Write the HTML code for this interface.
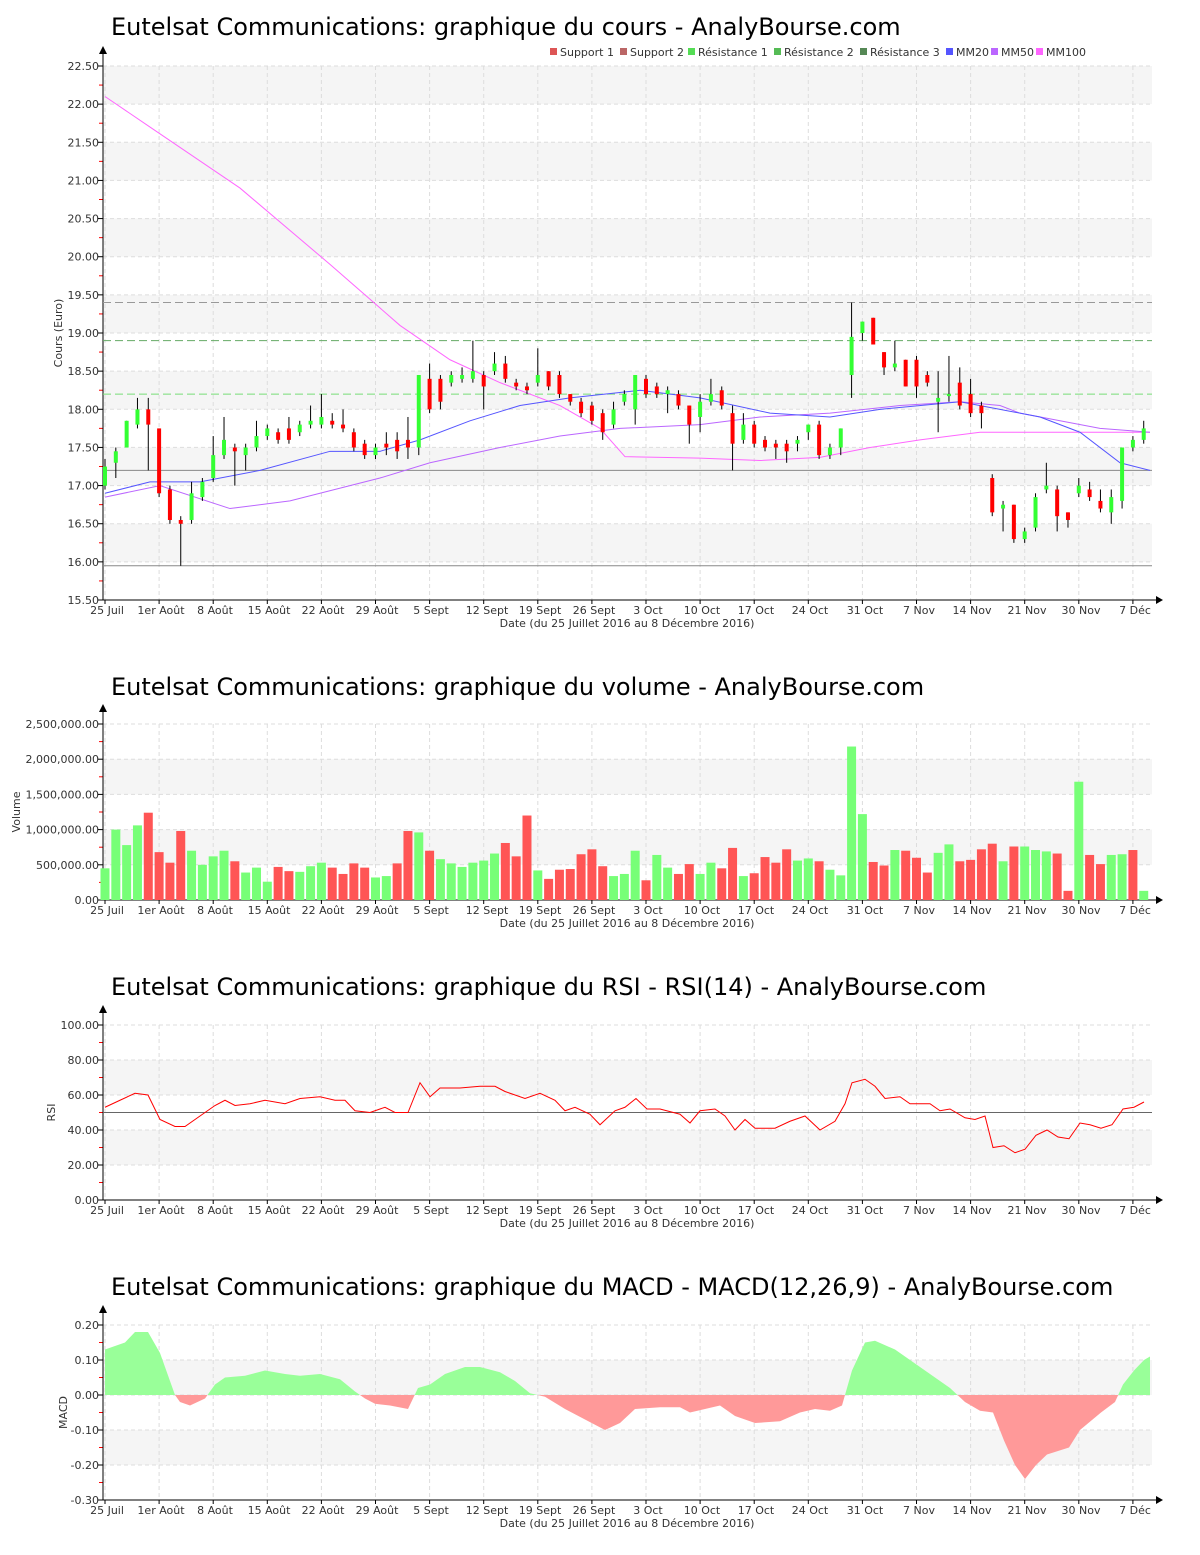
<!DOCTYPE html>
<html><head><meta charset="utf-8"><style>
body{margin:0;background:#fff;}
svg text{font-family:"DejaVu Sans","Liberation Sans",sans-serif;}
</style></head><body>
<svg id="s" width="1200" height="1550" xmlns="http://www.w3.org/2000/svg"></svg>
<script>
const S=document.getElementById('s');let h='';
const labels=["25 Juil","1er Août","8 Août","15 Août","22 Août","29 Août","5 Sept","12 Sept","19 Sept","26 Sept","3 Oct","10 Oct","17 Oct","24 Oct","31 Oct","7 Nov","14 Nov","21 Nov","30 Nov","7 Déc"];
const lx=[107,161,215,269,323,377,431,487,540,594,648,702,756,810,865,919,972,1027,1081,1135];
const X0=103,X1=1152;
function frame(title,ty,top,bot,ticks,fmt,ylab,bandsFromBottomGray){
 h+=`<text x="111" y="${ty}" font-size="24" fill="#000">${title}</text>`;
 const n=ticks.length-1;const bh=(bot-top)/n;
 for(let k=0;k<n;k++){const yb=bot-k*bh; if(k%2==1)h+=`<rect x="${X0}" y="${yb-bh}" width="${X1-X0}" height="${bh}" fill="#f5f5f5"/>`;}
 for(let k=0;k<=n;k++){const y=bot-k*bh;h+=`<line x1="${X0}" x2="${X1}" y1="${y}" y2="${y}" stroke="#ddd" stroke-dasharray="4,3"/>`;
  h+=`<text x="99" y="${y+4}" font-size="11" text-anchor="end" fill="#333">${fmt(ticks[k])}</text><line x1="98" x2="103" y1="${y}" y2="${y}" stroke="#000"/>`;
  if(k<n)h+=`<line x1="99" x2="103" y1="${y-bh/2}" y2="${y-bh/2}" stroke="red"/>`;}
 for(let i=0;i<lx.length;i++){const x=105+i*54.1;h+=`<line x1="${x}" x2="${x}" y1="${top}" y2="${bot}" stroke="#ddd" stroke-dasharray="4,3"/>`;
  h+=`<text x="${lx[i]}" y="${bot+14}" font-size="11" text-anchor="middle" fill="#333">${labels[i]}</text><line x1="${x}" x2="${x}" y1="${bot}" y2="${bot+4}" stroke="#000"/>`;}
 h+=`<line x1="${X0}" x2="${X0}" y1="${top-16}" y2="${bot}" stroke="#000"/><polygon points="${X0-4},${top-12} ${X0+4},${top-12} ${X0},${top-20}" fill="#000"/>`;
 h+=`<line x1="${X0}" x2="1158" y1="${bot}" y2="${bot}" stroke="#000"/><polygon points="1156,${bot-4} 1156,${bot+4} 1163,${bot}" fill="#000"/>`;
 h+=`<text x="627" y="${bot+27}" font-size="11" text-anchor="middle" fill="#333">Date (du 25 Juillet 2016 au 8 Décembre 2016)</text>`;
 const my=(top+bot)/2;h+=`<text x="0" y="0" font-size="11" text-anchor="middle" fill="#333" transform="translate(${ylab[1]},${my}) rotate(-90)">${ylab[0]}</text>`;
}
// chart1
const Y1=v=>66+(22.5-v)*76.3;
let t1=[];for(let v=15.5;v<=22.51;v+=0.5)t1.push(v);
frame("Eutelsat Communications: graphique du cours - AnalyBourse.com",35,66,600,t1,v=>v.toFixed(2),["Cours (Euro)",62]);
// legend
const leg=[["#d55","Support 1",550],["#b66","Support 2",620],["#5d5","Résistance 1",688],["#5b5","Résistance 2",774],["#585","Résistance 3",860],["#55f","MM20",946],["#b6f","MM50",991],["#f6f","MM100",1036]];
leg.forEach(l=>{h+=`<rect x="${l[2]}" y="48" width="7" height="7" fill="${l[0]}"/><text x="${l[2]+10}" y="56" font-size="11" fill="#333">${l[1]}</text>`;});
[[19.4,"#999",1],[18.9,"#6a6",1],[18.2,"#7d7",1]].forEach(r=>{h+=`<line x1="${X0}" x2="${X1}" y1="${Y1(r[0])}" y2="${Y1(r[0])}" stroke="${r[1]}" stroke-dasharray="8,4"/>`;});
[17.2,15.95].forEach(v=>h+=`<line x1="${X0}" x2="${X1}" y1="${Y1(v)}" y2="${Y1(v)}" stroke="#888"/>`);
function pl(pts,col,Y){h+=`<polyline fill="none" stroke="${col}" stroke-width="1" points="${pts.map(p=>p[0]+','+Y(p[1])).join(' ')}"/>`;}
pl([[105,22.1],[150,21.7],[240,20.9],[330,19.9],[400,19.1],[450,18.65],[500,18.35],[560,18.05],[600,17.75],[625,17.38],[700,17.36],[760,17.33],[820,17.37],[870,17.5],[920,17.6],[980,17.7],[1010,17.7],[1150,17.7]],"#f6f",Y1);
pl([[105,16.85],[160,17.0],[230,16.7],[290,16.8],[380,17.1],[430,17.3],[500,17.5],[560,17.65],[620,17.75],[700,17.8],[760,17.9],[830,17.95],[900,18.05],[960,18.1],[1000,18.05],[1020,17.95],[1100,17.75],[1150,17.7]],"#b6f",Y1);
pl([[105,16.9],[150,17.05],[200,17.05],[260,17.2],[330,17.45],[380,17.45],[420,17.6],[470,17.85],[520,18.05],[570,18.15],[640,18.25],[700,18.15],[770,17.95],[830,17.9],[880,18.0],[960,18.1],[1000,18.0],[1040,17.9],[1080,17.7],[1120,17.3],[1150,17.2]],"#55f",Y1);
const C=[[17,17.25,17.35,16.95],[17.3,17.45,17.5,17.1],[17.5,17.85,17.85,17.5],[17.8,18,18.15,17.75],[18,17.8,18.15,17.2],[17.75,16.9,17.75,16.85],[16.95,16.55,17,16.5],[16.55,16.5,16.6,15.95],[16.55,16.9,17.05,16.5],[16.85,17.05,17.1,16.8],[17.1,17.4,17.65,17.05],[17.4,17.6,17.9,17.35],[17.5,17.45,17.55,17.0],[17.4,17.5,17.55,17.2],[17.5,17.65,17.85,17.45],[17.65,17.75,17.8,17.6],[17.7,17.6,17.75,17.55],[17.75,17.6,17.9,17.55],[17.7,17.8,17.85,17.65],[17.8,17.85,18.05,17.75],[17.8,17.9,18.2,17.75],[17.85,17.8,17.95,17.75],[17.8,17.75,18,17.7],[17.7,17.5,17.75,17.45],[17.55,17.4,17.6,17.35],[17.4,17.5,17.55,17.35],[17.55,17.5,17.7,17.4],[17.6,17.45,17.7,17.35],[17.6,17.5,17.9,17.35],[17.5,18.45,18.45,17.4],[18.4,18,18.6,17.95],[18.4,18.1,18.45,18.0],[18.35,18.45,18.5,18.3],[18.4,18.45,18.55,18.35],[18.4,18.5,18.9,18.35],[18.45,18.3,18.5,18.0],[18.5,18.6,18.75,18.45],[18.6,18.4,18.7,18.35],[18.35,18.3,18.4,18.25],[18.3,18.25,18.35,18.2],[18.35,18.45,18.8,18.3],[18.5,18.3,18.5,18.25],[18.45,18.2,18.5,18.15],[18.2,18.1,18.2,18.05],[18.1,17.95,18.15,17.9],[18.05,17.85,18.1,17.8],[17.95,17.7,18.0,17.6],[17.8,18,18.1,17.75],[18.1,18.2,18.25,18.05],[18.0,18.45,18.45,17.8],[18.4,18.2,18.45,18.15],[18.3,18.2,18.35,18.15],[18.2,18.25,18.3,17.95],[18.2,18.05,18.25,18.0],[18.05,17.8,18.05,17.55],[17.9,18.1,18.2,17.7],[18.1,18.2,18.4,18.05],[18.25,18.05,18.3,18.0],[17.95,17.55,18.05,17.2],[17.6,17.8,17.95,17.55],[17.8,17.55,17.85,17.5],[17.6,17.5,17.65,17.45],[17.55,17.5,17.6,17.35],[17.55,17.45,17.6,17.3],[17.55,17.6,17.65,17.45],[17.7,17.8,17.8,17.6],[17.8,17.4,17.85,17.35],[17.4,17.5,17.55,17.35],[17.5,17.75,17.75,17.4],[18.45,18.95,19.4,18.15],[19.0,19.15,19.15,18.9],[19.2,18.85,19.2,18.85],[18.75,18.55,18.75,18.45],[18.55,18.6,18.9,18.5],[18.65,18.3,18.65,18.3],[18.65,18.3,18.7,18.15],[18.45,18.35,18.5,18.3],[18.1,18.15,18.5,17.7],[18.2,18.2,18.7,18.1],[18.35,18.05,18.55,18.0],[18.2,17.95,18.4,17.9],[18.05,17.95,18.1,17.75],[17.1,16.65,17.15,16.6],[16.7,16.75,16.8,16.4],[16.75,16.3,16.75,16.25],[16.3,16.4,16.45,16.25],[16.45,16.85,16.9,16.4],[16.95,17.0,17.3,16.9],[16.95,16.6,17.0,16.4],[16.65,16.55,16.65,16.45],[16.9,17.0,17.1,16.85],[16.95,16.85,17.05,16.8],[16.8,16.7,16.95,16.65],[16.65,16.85,16.95,16.5],[16.8,17.5,17.5,16.7],[17.5,17.6,17.65,17.45],[17.6,17.75,17.85,17.55]];
const cx=i=>105+i*10.82;
C.forEach((c,i)=>{const x=cx(i);const g=c[1]>=c[0];h+=`<line x1="${x}" x2="${x}" y1="${Y1(c[2])}" y2="${Y1(c[3])}" stroke="#000"/>`;
 const y=Y1(Math.max(c[0],c[1]));const hh=Math.max(2,Math.abs(Y1(c[0])-Y1(c[1])));h+=`<rect x="${x-2}" y="${y}" width="4" height="${hh}" fill="${g?'#3f3':'#f00'}"/>`;});
// chart2 volume
const Y2=v=>900-v*0.0704;
frame("Eutelsat Communications: graphique du volume - AnalyBourse.com",695,724,900,[0,500,1000,1500,2000,2500],v=>(v==0?"0.00":(v*1000).toLocaleString('en-US')+".00"),["Volume",20]);
const V="450g 1000g 780g 1060g 1240r 680r 530r 980r 700g 500g 620g 700g 550r 390g 460g 260g 470r 410r 400g 480g 530g 460r 370r 520r 460r 320g 340g 520r 980r 960g 700r 580g 520g 470g 530g 560g 660g 810r 620r 1200r 420g 300r 430r 440r 650r 720r 480r 340g 370g 700g 280r 640g 460g 370r 510r 370g 530g 450r 740r 340g 380r 610r 530r 720r 560g 590g 550r 430g 350g 2180g 1220g 540r 490r 710g 700r 600r 390r 670g 790g 550r 570r 720r 800r 550g 760r 760g 710g 690g 660r 130r 1680g 640r 510r 640g 650g 710r 130g".split(' ');
V.forEach((s,i)=>{const v=parseFloat(s);const x=cx(i);h+=`<rect x="${x-4.5}" y="${Y2(v)}" width="9" height="${900-Y2(v)}" fill="${s.endsWith('g')?'#7f7':'#f55'}"/>`;});
// chart3 RSI
const Y3=v=>1200-v*1.75;
frame("Eutelsat Communications: graphique du RSI - RSI(14) - AnalyBourse.com",995,1025,1200,[0,20,40,60,80,100],v=>v.toFixed(2),["RSI",55]);
h+=`<line x1="${X0}" x2="${X1}" y1="${Y3(50)}" y2="${Y3(50)}" stroke="#666"/>`;
pl([[105,53],[120,57],[135,61],[148,60],[160,46],[175,42],[185,42],[200,48],[215,54],[225,57],[235,54],[250,55],[265,57],[285,55],[300,58],[320,59],[335,57],[345,57],[355,51],[370,50],[385,53],[395,50],[408,50],[420,67],[430,59],[440,64],[460,64],[480,65],[495,65],[505,62],[525,58],[540,61],[555,57],[565,51],[575,53],[590,49],[600,43],[615,51],[625,53],[636,58],[647,52],[660,52],[680,49],[690,44],[700,51],[715,52],[725,48],[735,40],[745,46],[755,41],[775,41],[790,45],[805,48],[820,40],[835,45],[845,55],[852,67],[865,69],[875,65],[885,58],[900,59],[910,55],[930,55],[940,51],[950,52],[965,47],[975,46],[985,48],[993,30],[1004,31],[1015,27],[1025,29],[1036,37],[1047,40],[1058,36],[1069,35],[1080,44],[1090,43],[1101,41],[1112,43],[1123,52],[1134,53],[1144,56]],"#f00",Y3);
// chart4 MACD
const Y4=v=>1395-v*350;
frame("Eutelsat Communications: graphique du MACD - MACD(12,26,9) - AnalyBourse.com",1295,1325,1500,[-0.3,-0.2,-0.1,0,0.1,0.2],v=>v.toFixed(2),["MACD",67]);
const M=[[105,0.13],[125,0.15],[135,0.18],[148,0.18],[160,0.12],[175,0.0],[180,-0.02],[190,-0.03],[205,-0.01],[215,0.03],[225,0.05],[245,0.055],[265,0.07],[285,0.06],[300,0.055],[320,0.06],[340,0.045],[355,0.01],[365,-0.01],[375,-0.025],[390,-0.03],[408,-0.04],[418,0.02],[430,0.03],[445,0.06],[465,0.08],[480,0.08],[500,0.065],[515,0.04],[530,0.005],[545,-0.005],[565,-0.04],[585,-0.07],[605,-0.1],[620,-0.08],[635,-0.04],[660,-0.035],[680,-0.035],[690,-0.05],[705,-0.04],[720,-0.03],[735,-0.06],[755,-0.08],[780,-0.075],[800,-0.05],[815,-0.04],[830,-0.045],[842,-0.03],[852,0.07],[865,0.15],[875,0.155],[895,0.13],[910,0.1],[930,0.06],[950,0.02],[965,-0.02],[980,-0.045],[993,-0.05],[1004,-0.13],[1015,-0.2],[1025,-0.24],[1036,-0.2],[1047,-0.17],[1069,-0.15],[1080,-0.1],[1101,-0.05],[1115,-0.02],[1123,0.03],[1134,0.07],[1144,0.1],[1150,0.11]];
const poly=`105,1395 `+M.map(p=>p[0]+','+Y4(p[1])).join(' ')+` 1150,1395`;
h+=`<defs><clipPath id="up"><rect x="0" y="1300" width="1200" height="95"/></clipPath><clipPath id="dn"><rect x="0" y="1395" width="1200" height="110"/></clipPath></defs>`;
h+=`<polygon points="${poly}" fill="#9f9" clip-path="url(#up)"/><polygon points="${poly}" fill="#f99" clip-path="url(#dn)"/>`;
S.innerHTML=h;
</script>
</body></html>
